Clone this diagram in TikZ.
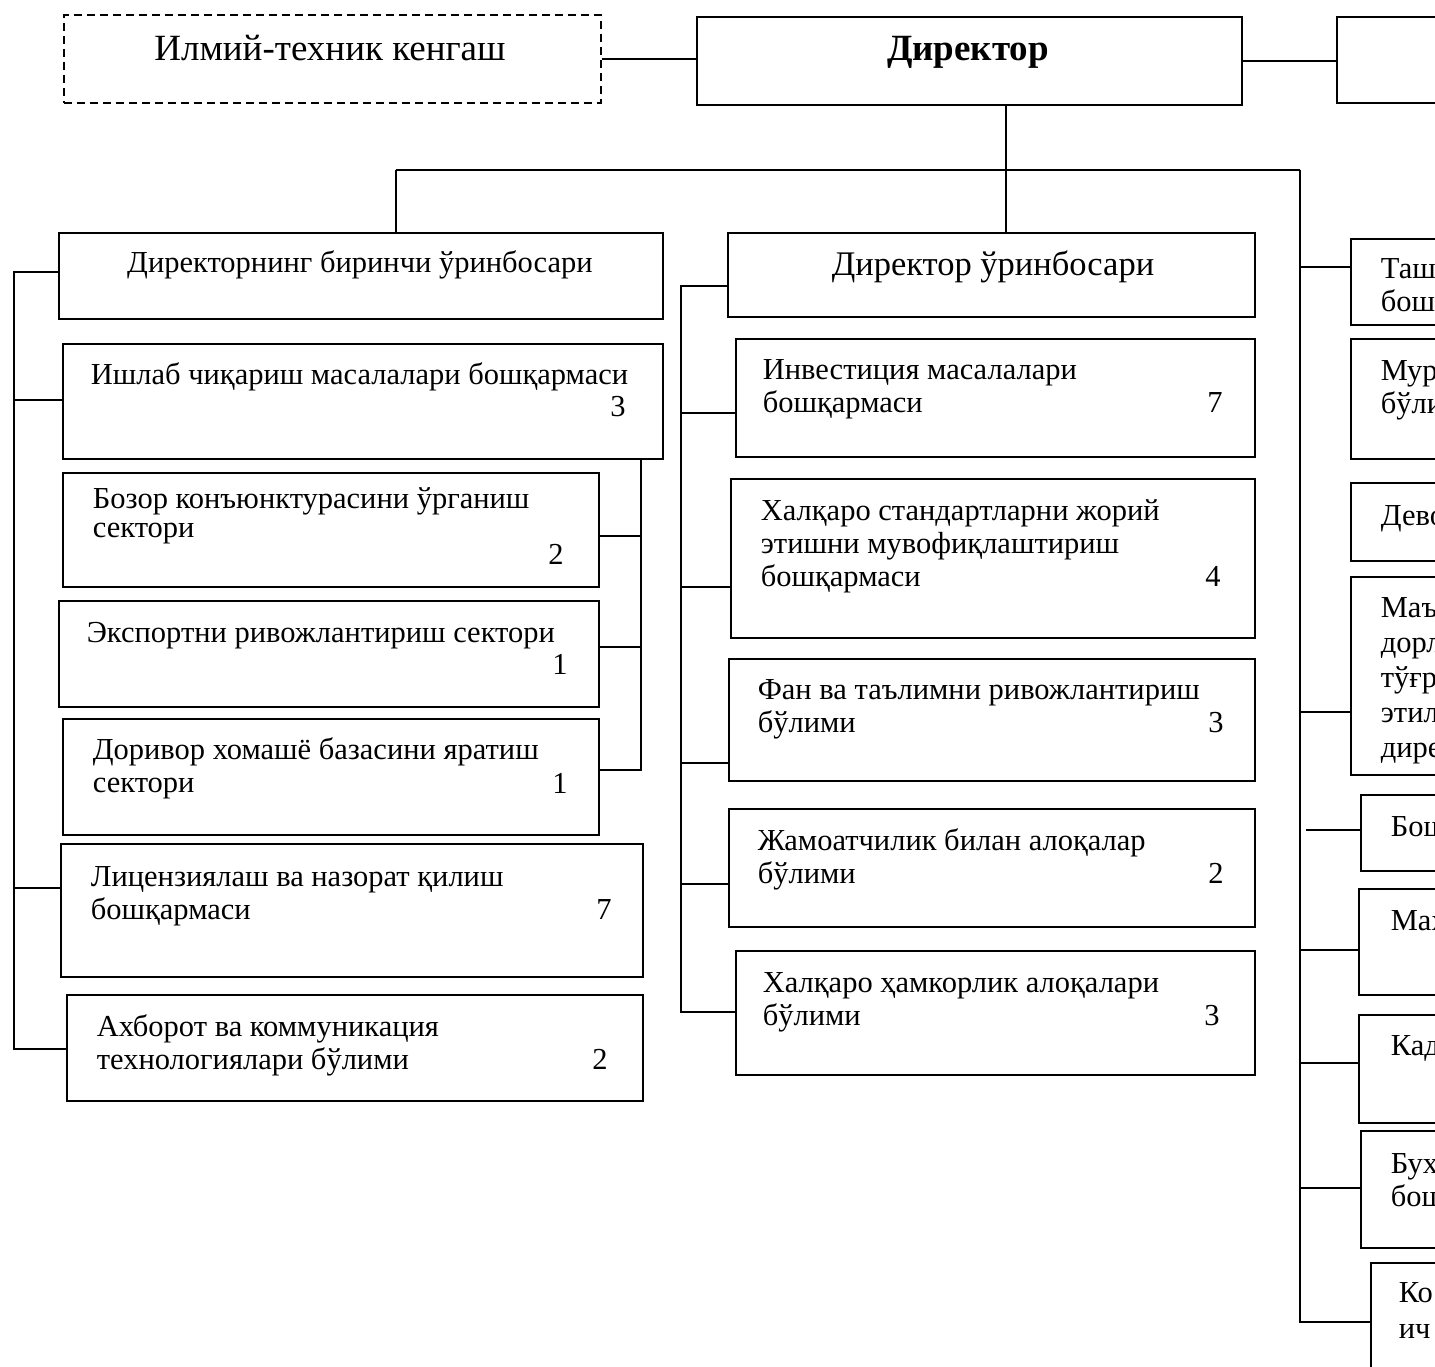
\documentclass[tikz,border=0pt]{standalone}
\usepackage{fontspec}
\setmainfont{Liberation Serif}
\usetikzlibrary{positioning}

\begin{document}
\begin{tikzpicture}[x=1pt,y=-1pt,line width=1.7pt,
                    box/.style={draw,rectangle,anchor=north west,inner sep=0pt},
                    txt/.style={anchor=base west,align=left,inner sep=0pt,font=\fontsize{30.5}{33}\selectfont},
                    ctxt/.style={anchor=center,inner sep=0pt,font=\fontsize{30.5}{34}\selectfont},
                    num/.style={anchor=base,inner sep=0pt,font=\fontsize{30.5}{33}\selectfont}]

  \useasboundingbox (0,0) rectangle (1435,1367);

  % top row
  \node[box,dashed,dash pattern=on 8pt off 5pt,minimum width=537pt,minimum height=88pt] (itk) at (63,14) {};
  \node[ctxt,font=\fontsize{37}{40}\selectfont] (itkt) at (330,48) {Илмий-техник кенгаш};
  \node[box,minimum width=545pt,minimum height=88pt] (D) at (696,16) {};
  \node[ctxt,font=\fontsize{37}{40}\selectfont\bfseries] (Dt) at (968,52) {Директор};
  \node[box,minimum width=200pt,minimum height=86pt] (R0) at (1336,16) {};

  % first deputy
  \node[box,minimum width=604pt,minimum height=86pt] (fd) at (58,232) {};
  \node[ctxt] (fdt) at (360,265) {Директорнинг биринчи ўринбосари};
  \node[box,minimum width=600pt,minimum height=115pt] (prod) at (62,343) {};
  \node[txt] (prodt) at (90,384) {Ишлаб чиқариш масалалари бошқармаси};
  \node[num] (prodn) at (618,416) {3};
  \node[box,minimum width=536pt,minimum height=114pt] (mkt) at (62,472) {};
  \node[txt] (mktt) at (92,537) {Бозор конъюнктурасини ўрганиш\\[-4pt]сектори};
  \node[num] (mktn) at (556,564) {2};
  \node[box,minimum width=540pt,minimum height=106pt] (exp) at (58,600) {};
  \node[txt] (expt) at (86,642) {Экспортни ривожлантириш сектори};
  \node[num] (expn) at (560,674) {1};
  \node[box,minimum width=536pt,minimum height=116pt] (raw) at (62,718) {};
  \node[txt] (rawt) at (92,792) {Доривор хомашё базасини яратиш\\сектори};
  \node[num] (rawn) at (560,793) {1};
  \node[box,minimum width=582pt,minimum height=133pt] (lic) at (60,843) {};
  \node[txt] (lict) at (90,919) {Лицензиялаш ва назорат қилиш\\бошқармаси};
  \node[num] (licn) at (604,919) {7};
  \node[box,minimum width=576pt,minimum height=106pt] (ict) at (66,994) {};
  \node[txt] (ictt) at (96,1069) {Ахборот ва коммуникация\\технологиялари бўлими};
  \node[num] (ictn) at (600,1069) {2};

  % deputy
  \node[box,minimum width=527pt,minimum height=84pt] (dep) at (727,232) {};
  \node[ctxt,font=\fontsize{34.5}{38}\selectfont] (dept) at (993,267) {Директор ўринбосари};
  \node[box,minimum width=519pt,minimum height=118pt] (inv) at (735,338) {};
  \node[txt] (invt) at (762,412) {Инвестиция масалалари\\бошқармаси};
  \node[num] (invn) at (1215,412) {7};
  \node[box,minimum width=524pt,minimum height=159pt] (std) at (730,478) {};
  \node[txt] (stdt) at (760,586) {Халқаро стандартларни жорий\\этишни мувофиқлаштириш\\бошқармаси};
  \node[num] (stdn) at (1213,586) {4};
  \node[box,minimum width=526pt,minimum height=122pt] (sci) at (728,658) {};
  \node[txt] (scit) at (757,732) {Фан ва таълимни ривожлантириш\\бўлими};
  \node[num] (scin) at (1216,732) {3};
  \node[box,minimum width=526pt,minimum height=118pt] (pub) at (728,808) {};
  \node[txt] (pubt) at (757,883) {Жамоатчилик билан алоқалар\\бўлими};
  \node[num] (pubn) at (1216,883) {2};
  \node[box,minimum width=519pt,minimum height=124pt] (intl) at (735,950) {};
  \node[txt] (intlt) at (762,1025) {Халқаро ҳамкорлик алоқалари\\бўлими};
  \node[num] (intln) at (1212,1025) {3};

  % right column (cut at the edge)
  \node[box,minimum width=200pt,minimum height=86pt] (R1) at (1350,238) {};
  \node[txt] (R1t) at (1380,311) {Таш\\бош};
  \node[box,minimum width=200pt,minimum height=120pt] (R2) at (1350,338) {};
  \node[txt] (R2t) at (1380,413) {Мур\\бўли};
  \node[box,minimum width=200pt,minimum height=78pt] (R3) at (1350,482) {};
  \node[txt] (R3t) at (1380,525) {Дево};
  \node[box,minimum width=200pt,minimum height=198pt] (R4) at (1350,576) {};
  \node[txt,font=\fontsize{30.5}{35}\selectfont] (R4t) at (1380,757) {Маъ\\дорл\\тўғр\\этил\\дире};
  \node[box,minimum width=200pt,minimum height=76pt] (R5) at (1360,794) {};
  \node[txt] (R5t) at (1390,836) {Бош};
  \node[box,minimum width=200pt,minimum height=106pt] (R6) at (1358,888) {};
  \node[txt] (R6t) at (1390,930) {Мах};
  \node[box,minimum width=200pt,minimum height=108pt] (R7) at (1358,1014) {};
  \node[txt] (R7t) at (1390,1055) {Кад};
  \node[box,minimum width=200pt,minimum height=117pt] (R8) at (1360,1130) {};
  \node[txt] (R8t) at (1390,1206) {Бух\\бош};
  \node[box,minimum width=200pt,minimum height=150pt] (R9) at (1370,1262) {};
  \node[txt,font=\fontsize{30.5}{36}\selectfont] (R9t) at (1398,1338) {Ко\\ич};

  % bus under the director
  \coordinate (bL) at (396,170);
  \coordinate (bD) at (1006,170);
  \coordinate (bR) at (1300,170);
  \draw (itk.east) -- (itk.east -| D.west);
  \draw (D.east) -- (D.east -| R0.west);
  \draw (bL) -- (bR);
  \draw (D.south -| bD) -- (dep.north -| bD);
  \draw (bL) -- (fd.north -| bL);

  % left trunk
  \coordinate (lT) at (14,272);
  \coordinate (l2) at (14,400);
  \coordinate (l3) at (14,888);
  \coordinate (lB) at (14,1049);
  \draw (fd.west |- lT) -- (lT) -- (lB) -- (lB -| ict.west);
  \draw (l2) -- (l2 -| prod.west);
  \draw (l3) -- (l3 -| lic.west);

  % sectors under production
  \coordinate (s1) at (641,536);
  \coordinate (s2) at (641,647);
  \coordinate (sB) at (641,770);
  \draw (prod.south -| sB) -- (sB) -- (sB -| raw.east);
  \draw (s1) -- (s1 -| mkt.east);
  \draw (s2) -- (s2 -| exp.east);

  % middle trunk
  \coordinate (mT) at (681,286);
  \coordinate (m2) at (681,413);
  \coordinate (m3) at (681,587);
  \coordinate (m4) at (681,763);
  \coordinate (m5) at (681,884);
  \coordinate (mB) at (681,1012);
  \draw (dep.west |- mT) -- (mT) -- (mB) -- (mB -| intl.west);
  \draw (m2) -- (m2 -| inv.west);
  \draw (m3) -- (m3 -| std.west);
  \draw (m4) -- (m4 -| sci.west);
  \draw (m5) -- (m5 -| pub.west);

  % right trunk
  \coordinate (r1) at (1300,267);
  \coordinate (r4) at (1300,712);
  \coordinate (r5) at (1306,830);
  \coordinate (r6) at (1300,950);
  \coordinate (r7) at (1300,1063);
  \coordinate (r8) at (1300,1188);
  \coordinate (rB) at (1300,1322);
  \draw (bR) -- (rB) -- (rB -| R9.west);
  \draw (r1) -- (r1 -| R1.west);
  \draw (r4) -- (r4 -| R4.west);
  \draw (r5) -- (r5 -| R5.west);
  \draw (r6) -- (r6 -| R6.west);
  \draw (r7) -- (r7 -| R7.west);
  \draw (r8) -- (r8 -| R8.west);
\end{tikzpicture}
\end{document}
